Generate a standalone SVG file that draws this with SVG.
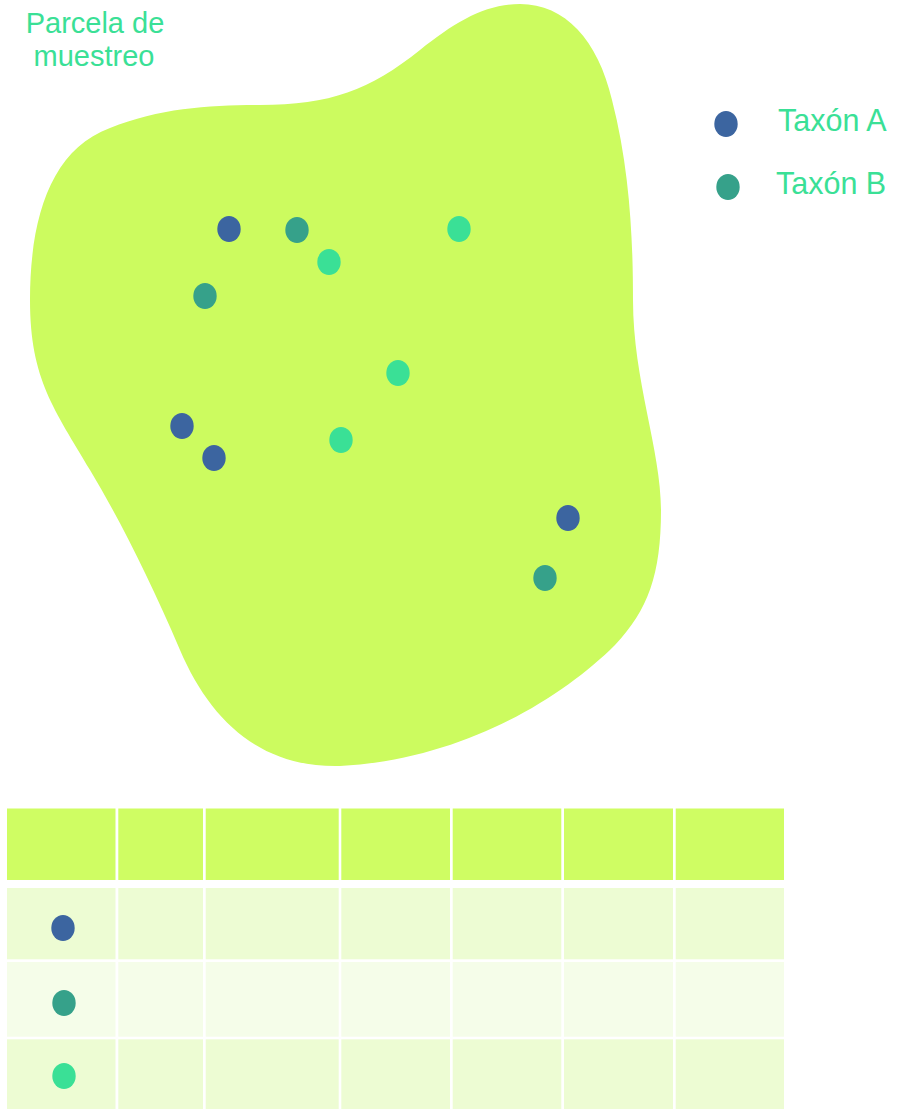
<svg xmlns="http://www.w3.org/2000/svg" width="914" height="1109" viewBox="0 0 914 1109">
<style>
.lbl{font-family:"Liberation Sans",Arial,sans-serif;font-size:29px;fill:#3ae096}
.leg{font-size:30.5px}
.a{fill:#3c65a0}
.b{fill:#36a18a}
.c{fill:#3ae096}
.hd{fill:#cffd63}
.r1{fill:#edfcd3}
.r2{fill:#f5fde9}
</style>
<rect width="914" height="1109" fill="#ffffff"/>
<g id="parcela">
<path d="M30,300 C30,220 50,150 110,128 C160,108 210,105 260,105 C330,105 370,90 420,50 C455,22 485,4 520,4 C565,4 598,40 612,100 C630,170 633,240 633,300 C633,380 661,450 661,510 C661,575 648,610 615,645 C560,700 460,760 340,766 C260,768 210,720 180,650 C150,580 120,520 90,470 C55,410 30,380 30,300 Z" fill="#ccfb5f"/>
<text class="lbl" x="95" y="33" text-anchor="middle">Parcela de</text>
<text class="lbl" x="94" y="66" text-anchor="middle">muestreo</text>
</g>
<g id="individuos">
<ellipse class="a" cx="229" cy="229" rx="11.7" ry="13"/>
<ellipse class="b" cx="297" cy="230" rx="11.7" ry="13"/>
<ellipse class="c" cx="459" cy="229" rx="11.7" ry="13"/>
<ellipse class="c" cx="329" cy="262" rx="11.7" ry="13"/>
<ellipse class="b" cx="205" cy="296" rx="11.7" ry="13"/>
<ellipse class="c" cx="398" cy="373" rx="11.7" ry="13"/>
<ellipse class="a" cx="182" cy="426" rx="11.7" ry="13"/>
<ellipse class="a" cx="214" cy="458" rx="11.7" ry="13"/>
<ellipse class="c" cx="341" cy="440" rx="11.7" ry="13"/>
<ellipse class="a" cx="568" cy="518" rx="11.7" ry="13"/>
<ellipse class="b" cx="545" cy="578" rx="11.7" ry="13"/>
</g>
<g id="leyenda">
<ellipse class="a" cx="726" cy="124" rx="11.7" ry="13"/>
<text class="lbl leg" x="778" y="131">Taxón A</text>
<ellipse class="b" cx="728" cy="187" rx="11.7" ry="13"/>
<text class="lbl leg" x="776" y="194">Taxón B</text>
</g>
<g id="tabla">
<g id="encabezado">
<rect class="hd" x="7" y="808.5" width="108.5" height="71.5"/>
<rect class="hd" x="118.3" y="808.5" width="84.7" height="71.5"/>
<rect class="hd" x="205.7" y="808.5" width="133" height="71.5"/>
<rect class="hd" x="341.3" y="808.5" width="108.7" height="71.5"/>
<rect class="hd" x="452.7" y="808.5" width="108.6" height="71.5"/>
<rect class="hd" x="564" y="808.5" width="109" height="71.5"/>
<rect class="hd" x="675.7" y="808.5" width="108.3" height="71.5"/>
</g>
<g id="fila1">
<rect class="r1" x="7" y="888" width="108.5" height="71.3"/>
<rect class="r1" x="118.3" y="888" width="84.7" height="71.3"/>
<rect class="r1" x="205.7" y="888" width="133" height="71.3"/>
<rect class="r1" x="341.3" y="888" width="108.7" height="71.3"/>
<rect class="r1" x="452.7" y="888" width="108.6" height="71.3"/>
<rect class="r1" x="564" y="888" width="109" height="71.3"/>
<rect class="r1" x="675.7" y="888" width="108.3" height="71.3"/>
<ellipse class="a" cx="63" cy="928" rx="11.7" ry="13"/>
</g>
<g id="fila2">
<rect class="r2" x="7" y="962" width="108.5" height="74.7"/>
<rect class="r2" x="118.3" y="962" width="84.7" height="74.7"/>
<rect class="r2" x="205.7" y="962" width="133" height="74.7"/>
<rect class="r2" x="341.3" y="962" width="108.7" height="74.7"/>
<rect class="r2" x="452.7" y="962" width="108.6" height="74.7"/>
<rect class="r2" x="564" y="962" width="109" height="74.7"/>
<rect class="r2" x="675.7" y="962" width="108.3" height="74.7"/>
<ellipse class="b" cx="64" cy="1003" rx="11.7" ry="13"/>
</g>
<g id="fila3">
<rect class="r1" x="7" y="1039.3" width="108.5" height="69.7"/>
<rect class="r1" x="118.3" y="1039.3" width="84.7" height="69.7"/>
<rect class="r1" x="205.7" y="1039.3" width="133" height="69.7"/>
<rect class="r1" x="341.3" y="1039.3" width="108.7" height="69.7"/>
<rect class="r1" x="452.7" y="1039.3" width="108.6" height="69.7"/>
<rect class="r1" x="564" y="1039.3" width="109" height="69.7"/>
<rect class="r1" x="675.7" y="1039.3" width="108.3" height="69.7"/>
<ellipse class="c" cx="64" cy="1076" rx="11.7" ry="13"/>
</g>
</g>
</svg>
